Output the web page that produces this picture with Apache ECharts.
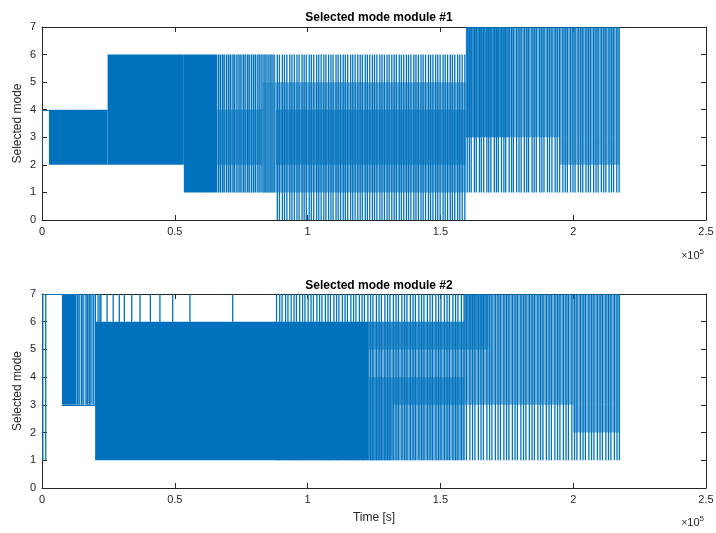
<!DOCTYPE html>
<html>
<head>
<meta charset="utf-8">
<script src="https://cdn.jsdelivr.net/npm/echarts@6/dist/echarts.min.js"></script>
<style>
html, body { margin: 0; padding: 0; background: #fff; }
#main { width: 716px; height: 533px; }
</style>
</head>
<body>
<div id="main"></div>
<script>
// time is in units of 1e3 s (axis 0..250 -> 0..2.5 x10^5)
var xTicks = [0, 50, 100, 150, 200, 250];
var yTicks = [0, 1, 2, 3, 4, 5, 6, 7];
var titles = ['Selected mode module #1', 'Selected mode module #2'];

// ---- module #1 ----
// solid blocks [t0, t1, low, high]
var m1Solid = [[2.6, 24.7, 2, 4], [24.7, 53.4, 2, 6], [53.4, 66, 1, 6]];
// densely switching bands [t0, t1, low, high]
var m1BandsLight = [[66, 83, 1, 6], [83, 88, 5, 6]];
var m1BandsMid = [[66, 83, 2, 4], [83, 159.5, 1, 5], [159.6, 217.5, 3, 7], [195, 217.5, 2, 3]];
var m1BandsDark = [[88, 159.5, 2, 4], [159.6, 176, 3, 7]];
// flat segments [t0, t1, level]
var m1Levels = [[0, 2.6, 4]];
// single switch lines
var m1Start = [0];
var m1StartRange = [2, 4];
var m1SpikesA = [66.5, 67.2, 68.0, 68.6, 69.5, 70.3, 71.0, 71.9, 72.5, 73.4, 74.2, 74.9, 75.8, 76.5, 77.4, 78.0, 78.9, 79.7, 80.4, 81.3, 82.0, 82.8, 83.6, 84.3, 85.1, 85.9, 86.6, 87.4];
var m1SpikesARange = [1, 6];
var m1SpikesB = [88.6, 89.4, 90.5, 91.3, 92.2, 93.3, 94.1, 95.0, 96.0, 96.8, 97.9, 98.7, 99.5, 100.6, 101.4, 102.3, 103.4, 104.2, 105.1, 106.1, 106.9, 107.9, 108.8, 109.6, 110.7, 111.5, 112.4, 113.4, 114.2, 115.1, 116.2, 117.0, 117.9, 118.9, 119.8, 120.6, 121.7, 122.5, 123.4, 124.4, 125.2, 126.1, 127.2, 128.0, 128.9, 129.9, 130.7, 131.7, 132.6, 133.4, 134.5, 135.3, 136.2, 137.2, 138.0, 138.9, 140.0, 140.8, 141.7, 142.7, 143.5, 144.4, 145.5, 146.3, 147.2, 148.2, 149.0, 149.9, 151.0, 151.8, 152.7, 153.7, 154.5, 155.4, 156.5, 157.3, 158.2, 159.2];
var m1SpikesBRange = [0, 6];
var m1SpikesC = [160.1, 160.9, 161.6, 162.8, 163.5, 164.7, 165.4, 166.3, 167.5, 168.2, 169.0, 170.3, 171.1, 171.8, 173.0, 173.9, 174.6, 175.9, 176.8, 177.5, 178.7, 179.6, 180.4, 181.6, 182.5, 183.2, 184.5, 185.3, 186.1, 187.4, 188.2, 189.0, 190.3, 191.1, 192.0, 193.2, 194.0, 194.9, 196.1, 197.0, 197.8, 199.0, 199.9, 200.7, 201.9, 202.8, 203.6, 204.8, 205.7, 206.5, 207.7, 208.6, 209.4, 210.6, 211.5, 212.3, 213.5, 214.4, 215.2, 216.4, 217.3];
var m1SpikesCRange = [1, 7];

// ---- module #2 ----
var m2Solid = [[7.5, 13, 3, 7], [20, 123, 1, 6]];
var m2BandsLight = [[13, 20, 3, 7]];
var m2BandsMid = [[123, 159, 1, 6], [159, 217.5, 3, 7], [200, 217.5, 2, 3]];
var m2BandsDark = [[123, 132, 1, 3], [123, 159, 5, 6], [123, 159, 3, 4], [159, 168, 5, 7]];
var m2Levels = [[0, 7.5, 7], [7.5, 20, 3]];
var m2Start = [0.3, 1.4];
var m2StartRange = [1, 7];
var m2SpikesA = [13.4, 14.0, 14.9, 15.5, 16.6, 17.2, 17.8, 18.4, 19.3, 20.1, 21.1, 21.8];
var m2SpikesARange = [3, 7];
var m2SpikesB = [22.2, 24.5, 26.8, 29.1, 31.0, 33.8, 36.9, 40.8, 44.4, 49.2, 55.7, 71.8];
var m2SpikesBRange = [6, 7];
var m2SpikesC = [88.3, 89.5, 90.4, 91.7, 92.6, 93.8, 94.9, 95.8, 97.0, 98.1, 99.0, 100.2, 101.3, 102.2, 103.5, 104.5, 105.4, 106.7, 107.7, 108.6, 109.9, 110.9, 111.8, 113.1, 114.1, 115.0, 116.3, 117.3, 118.2, 119.5, 120.5, 121.4, 122.7, 123.7, 124.6, 125.9, 126.9, 127.8, 129.1, 130.1, 131.0, 132.3, 133.3, 134.2, 135.5, 136.5, 137.4, 138.7, 139.7, 140.6, 141.9, 142.9, 143.8, 145.1, 146.1, 147.0, 148.3, 149.3, 150.2, 151.5, 152.5, 153.4, 154.7, 155.7, 156.6, 157.9, 158.9, 159.8, 161.1, 162.1, 163.0, 164.3, 165.3, 166.2, 167.5, 168.5, 169.4, 170.7, 171.7, 172.6, 173.9, 174.9, 175.8, 177.1, 178.1, 179.0, 180.3, 181.3, 182.2, 183.5, 184.5, 185.4, 186.7, 187.7, 188.6, 189.9, 190.9, 191.8, 193.1, 194.1, 195.0, 196.3, 197.3, 198.2, 199.5, 200.5, 201.4, 202.7, 203.7, 204.6, 205.9, 206.9, 207.8, 209.1, 210.1, 211.0, 212.3, 213.3, 214.2, 215.5, 216.5, 217.4];
var m2SpikesCRange = [1, 7];

var BLUE = '#0072BD';
var AXC = '#262626';
var FONT = 'Liberation Sans';

function blockSeries(idx, data, opacity) {
    return {
        type: 'custom', xAxisIndex: idx * 2, yAxisIndex: idx * 2, clip: true, silent: true,
        data: data,
        renderItem: function (params, api) {
            var a = api.coord([api.value(0), api.value(3)]);
            var b = api.coord([api.value(1), api.value(2)]);
            return {
                type: 'rect',
                shape: { x: a[0], y: a[1], width: b[0] - a[0], height: b[1] - a[1] },
                style: { fill: BLUE, opacity: opacity }
            };
        }
    };
}

function levelSeries(idx, data) {
    return {
        type: 'custom', xAxisIndex: idx * 2, yAxisIndex: idx * 2, clip: true, silent: true,
        data: data,
        renderItem: function (params, api) {
            var a = api.coord([api.value(0), api.value(2)]);
            var b = api.coord([api.value(1), api.value(2)]);
            return {
                type: 'line',
                shape: { x1: a[0], y1: Math.round(a[1]) + 0.5, x2: b[0], y2: Math.round(b[1]) + 0.5 },
                style: { stroke: BLUE, lineWidth: 1 }
            };
        }
    };
}

function spikeSeries(idx, times, range) {
    var data = [];
    for (var i = 0; i < times.length; i++) {
        data.push([times[i], range[0], range[1]]);
    }
    return {
        type: 'custom', xAxisIndex: idx * 2, yAxisIndex: idx * 2, clip: true, silent: true,
        data: data,
        renderItem: function (params, api) {
            var a = api.coord([api.value(0), api.value(1)]);
            var b = api.coord([api.value(0), api.value(2)]);
            return {
                type: 'line',
                shape: { x1: a[0], y1: a[1], x2: a[0], y2: b[1] },
                style: { stroke: BLUE, lineWidth: 1.3 }
            };
        }
    };
}

var grids = [
    { left: 42, top: 27, width: 664, height: 193, outerBoundsMode: 'none' },
    { left: 42, top: 294, width: 664, height: 194, outerBoundsMode: 'none' }
];

var xAxes = [], yAxes = [];
for (var g = 0; g < 2; g++) {
    ['bottom', 'top'].forEach(function (pos) {
        xAxes.push({
            type: 'value', gridIndex: g, position: pos, min: 0, max: 250, interval: 50,
            axisLine: { show: true, onZero: false, lineStyle: { color: AXC, width: 1 } },
            axisTick: { show: true, inside: true, length: 5, lineStyle: { color: AXC } },
            splitLine: { show: false },
            axisLabel: {
                show: pos === 'bottom', color: AXC, fontSize: 11, fontFamily: FONT, margin: 6,
                formatter: function (v) { return String(v / 100); }
            }
        });
    });
    ['left', 'right'].forEach(function (pos) {
        yAxes.push({
            type: 'value', gridIndex: g, position: pos, min: 0, max: 7, interval: 1,
            axisLine: { show: true, onZero: false, lineStyle: { color: AXC, width: 1 } },
            axisTick: { show: true, inside: true, length: 5, lineStyle: { color: AXC } },
            splitLine: { show: false },
            axisLabel: { show: pos === 'left', color: AXC, fontSize: 11, fontFamily: FONT, margin: 6 }
        });
    });
}

var series = [
    blockSeries(0, m1Solid, 1),
    blockSeries(0, m1BandsLight, 0.3),
    blockSeries(0, m1BandsMid, 0.55),
    blockSeries(0, m1BandsDark, 0.55),
    levelSeries(0, m1Levels),
    spikeSeries(0, m1Start, m1StartRange),
    spikeSeries(0, m1SpikesA, m1SpikesARange),
    spikeSeries(0, m1SpikesB, m1SpikesBRange),
    spikeSeries(0, m1SpikesC, m1SpikesCRange),
    blockSeries(1, m2Solid, 1),
    blockSeries(1, m2BandsLight, 0.3),
    blockSeries(1, m2BandsMid, 0.55),
    blockSeries(1, m2BandsDark, 0.55),
    levelSeries(1, m2Levels),
    spikeSeries(1, m2Start, m2StartRange),
    spikeSeries(1, m2SpikesA, m2SpikesARange),
    spikeSeries(1, m2SpikesB, m2SpikesBRange),
    spikeSeries(1, m2SpikesC, m2SpikesCRange)
];

function expText(y) {
    return {
        type: 'text', right: 12, top: y,
        style: {
            text: '{a|×}{b|10}{c|5}',
            rich: {
                a: { fontSize: 10, fill: AXC, fontFamily: FONT },
                b: { fontSize: 11, fill: AXC, fontFamily: FONT },
                c: { fontSize: 8, fill: AXC, fontFamily: FONT, verticalAlign: 'top', padding: [0, 0, 8, 0] }
            }
        }
    };
}

function yName(cy) {
    return {
        type: 'text', x: 18, y: cy, rotation: Math.PI / 2,
        style: { text: 'Selected mode', fill: AXC, fontSize: 12, fontFamily: FONT,
                 align: 'center', verticalAlign: 'middle' }
    };
}

var option = {
    animation: false,
    backgroundColor: '#fff',
    title: [
        { text: titles[0], left: 374, top: 7, textAlign: 'center',
          textStyle: { fontSize: 12, fontWeight: 'bold', color: '#000', fontFamily: FONT } },
        { text: titles[1], left: 374, top: 275, textAlign: 'center',
          textStyle: { fontSize: 12, fontWeight: 'bold', color: '#000', fontFamily: FONT } }
    ],
    grid: grids,
    xAxis: xAxes,
    yAxis: yAxes,
    series: series,
    graphic: [
        expText(248), expText(515),
        yName(123.5), yName(391),
        { type: 'text', x: 374, y: 518,
          style: { text: 'Time [s]', fill: AXC, fontSize: 12, fontFamily: FONT, align: 'center', verticalAlign: 'middle' } }
    ]
};

echarts.init(document.getElementById('main')).setOption(option);
</script>
</body>
</html>
